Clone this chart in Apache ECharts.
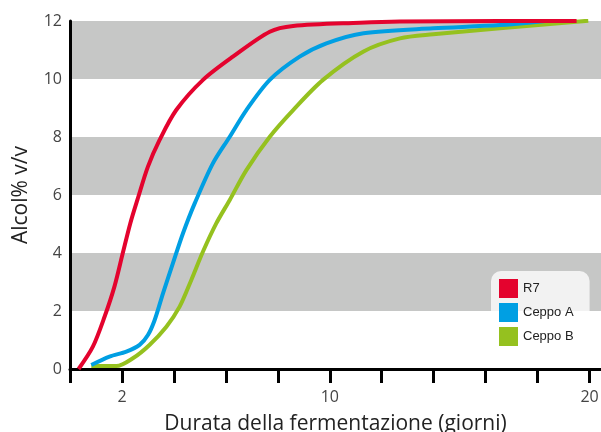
<!DOCTYPE html>
<html>
<head>
<meta charset="utf-8">
<script src="https://cdn.jsdelivr.net/npm/echarts@6/dist/echarts.min.js"></script>
<style>
  html, body { margin: 0; padding: 0; background: #fff; }
  #chart { width: 601px; height: 432px; }
</style>
</head>
<body>
<div id="chart"></div>
<script>
// days, alcohol % v/v
var r7Days = [0.33, 0.88, 1.33, 1.71, 2.03, 2.32, 2.6, 3.0, 3.45, 4.09, 5.12, 6.27, 7.69, 8.59, 11.16, 12.7, 16.55, 19.5];
var r7Vals = [0, 0.77, 1.8, 2.84, 3.99, 5.02, 5.85, 6.98, 7.9, 8.93, 9.97, 10.77, 11.63, 11.83, 11.94, 11.98, 12.0, 12.0];

var ceppoADays = [0.82, 1.52, 2.17, 2.68, 3.0, 3.26, 3.58, 3.96, 4.35, 4.8, 5.5, 6.15, 6.79, 7.69, 8.84, 9.87, 11.3, 13.98, 16.55, 19.3];
var ceppoAVals = [0.14, 0.43, 0.6, 0.83, 1.17, 1.69, 2.61, 3.64, 4.68, 5.71, 7.09, 8.01, 8.93, 9.97, 10.77, 11.23, 11.58, 11.75, 11.86, 12.09];

var ceppoBDays = [0.82, 1.78, 2.42, 3.06, 3.71, 4.22, 4.67, 5.12, 5.63, 6.15, 6.79, 7.69, 8.59, 9.74, 11.3, 12.7, 13.98, 16.55, 19.95];
var ceppoBVals = [0.1, 0.1, 0.37, 0.83, 1.46, 2.15, 3.07, 4.05, 5.02, 5.83, 6.86, 8.01, 8.93, 9.97, 10.95, 11.4, 11.54, 11.75, 12.01];

var xTicks = [0, 2, 4, 6, 8, 10, 12, 14, 16, 18, 20];
var xLabels = [2, 10, 20];
var seriesNames = ['R7', 'Ceppo A', 'Ceppo B'];
var colors = ['#e4032e', '#009fe3', '#95c11f'];

function pairs(xs, ys) {
  return xs.map(function (x, i) { return [x, ys[i]]; });
}

var chart = echarts.init(document.getElementById('chart'));
var font = '"Open Sans", sans-serif';

chart.setOption({
  animation: false,
  color: colors,
  grid: { left: 70, right: 0, top: 21, bottom: 63, containLabel: false, outerBoundsMode: 'none' },
  legend: {
    orient: 'vertical',
    left: 491,
    top: 271,
    padding: [8, 16, 8, 8],
    itemWidth: 19,
    itemHeight: 19,
    itemGap: 5,
    icon: 'rect',
    backgroundColor: 'rgba(255,255,255,0.77)',
    borderRadius: 10,
    textStyle: { fontFamily: '"Liberation Sans", Arial, sans-serif', fontSize: 13, color: '#222' },
    data: seriesNames
  },
  xAxis: {
    type: 'value',
    min: 0,
    max: 20.44,
    name: 'Durata della fermentazione (giorni)',
    nameLocation: 'middle',
    nameGap: 45,
    nameTextStyle: { fontFamily: font, fontSize: 21, color: '#222' },
    axisLine: { lineStyle: { color: '#000', width: 3 } },
    axisTick: { show: true, length: 14, lineStyle: { color: '#000', width: 3 }, customValues: xTicks },
    axisLabel: { fontFamily: font, fontSize: 16, color: '#444', margin: 20, customValues: xLabels },
    splitLine: { show: false }
  },
  yAxis: {
    type: 'value',
    min: 0,
    max: 12,
    interval: 2,
    name: 'Alcol% v/v',
    nameLocation: 'middle',
    nameGap: 38,
    nameTextStyle: { fontFamily: font, fontSize: 21, color: '#222' },
    axisLine: { show: true, lineStyle: { color: '#000', width: 3 } },
    axisTick: { show: false },
    axisLabel: { fontFamily: font, fontSize: 16, color: '#444', margin: 8 },
    splitLine: { show: false },
    splitArea: { show: true, areaStyle: { color: ['#ffffff', '#c6c7c6'] } }
  },
  series: [
    { name: seriesNames[0], type: 'line', data: pairs(r7Days, r7Vals) },
    { name: seriesNames[1], type: 'line', data: pairs(ceppoADays, ceppoAVals) },
    { name: seriesNames[2], type: 'line', data: pairs(ceppoBDays, ceppoBVals) }
  ].map(function (s, i) {
    s.smooth = 0.3;
    s.showSymbol = false;
    s.lineStyle = { width: 4, color: colors[i] };
    s.z = 3 - i;
    return s;
  })
});
</script>
</body>
</html>
